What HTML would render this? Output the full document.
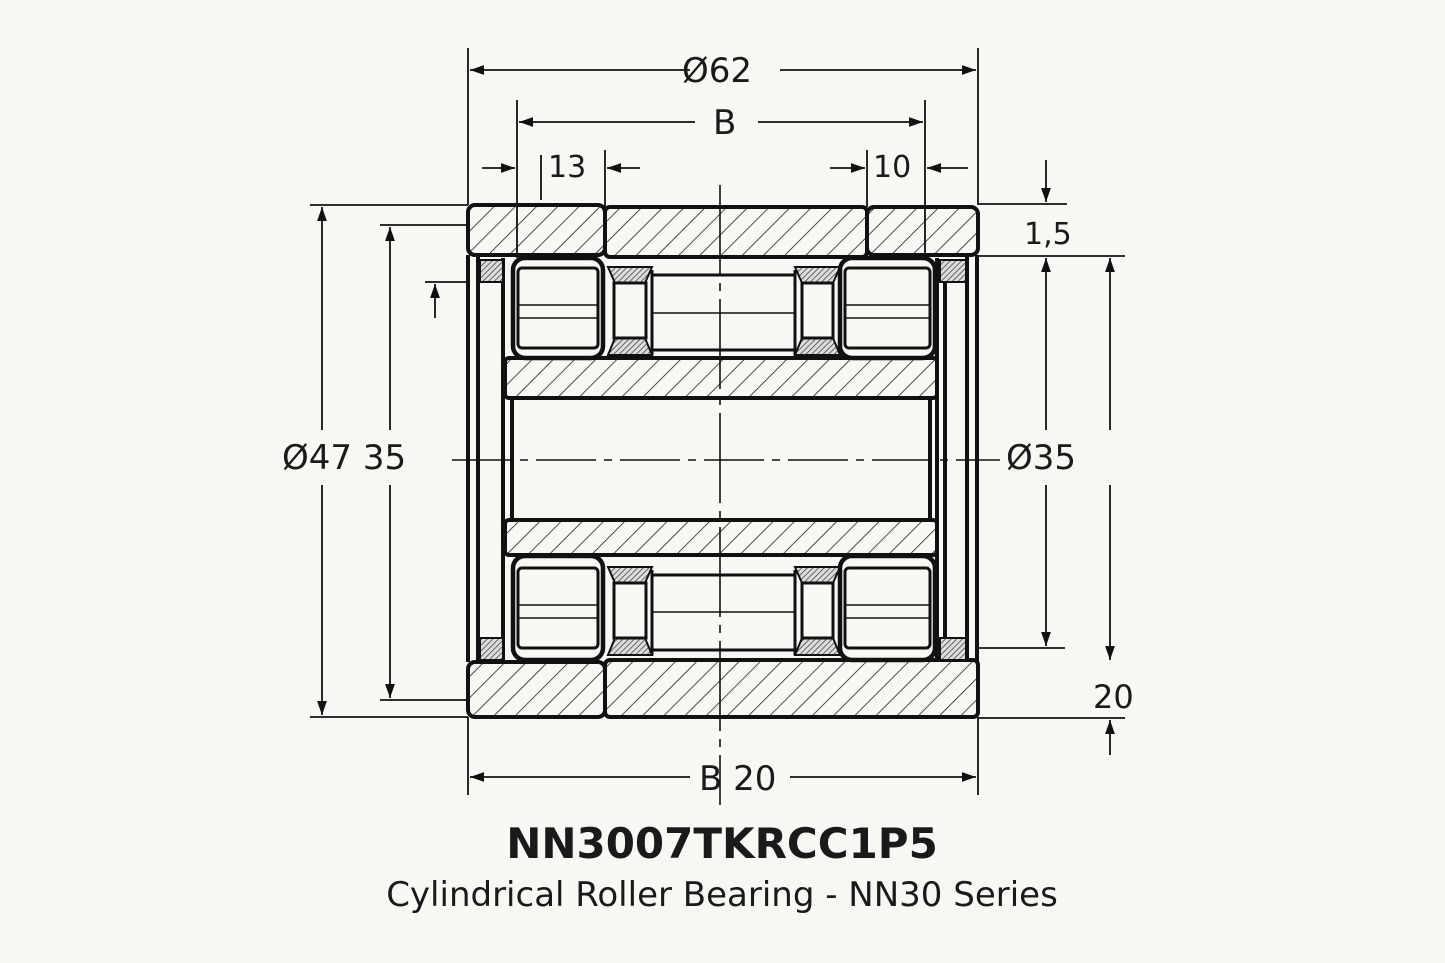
<!DOCTYPE html>
<html><head><meta charset="utf-8"><style>
html,body{margin:0;padding:0;background:#f7f7f3;}
svg{display:block}
text{font-family:"DejaVu Sans","Liberation Sans",sans-serif;fill:#1a1a1a}
</style></head><body>
<svg width="1445" height="963" viewBox="0 0 1445 963" xmlns="http://www.w3.org/2000/svg">
<defs>
<pattern id="h" patternUnits="userSpaceOnUse" width="15" height="15" patternTransform="rotate(45)">
<rect width="15" height="15" fill="#f7f7f3"/><line x1="0" y1="0" x2="0" y2="15" stroke="#222" stroke-width="1.6"/></pattern>
<pattern id="f" patternUnits="userSpaceOnUse" width="4" height="4" patternTransform="rotate(45)">
<rect width="4" height="4" fill="#ddd"/><line x1="0" y1="0" x2="0" y2="4" stroke="#333" stroke-width="1.4"/></pattern>
<marker id="a" viewBox="0 0 10 10" refX="10" refY="5" markerWidth="14" markerHeight="14" markerUnits="userSpaceOnUse" orient="auto-start-reverse"><path d="M0,1.5 L10,5 L0,8.5z" fill="#111"/></marker>
</defs>
<rect width="1445" height="963" fill="#f7f7f3"/>
<g stroke="#111" fill="none">
<g stroke-width="4">
<line x1="468" y1="255" x2="468" y2="662"/><line x1="478" y1="255" x2="478" y2="662"/>
<line x1="503" y1="258" x2="503" y2="662"/><line x1="512" y1="398" x2="512" y2="520"/>
<line x1="977" y1="255" x2="977" y2="662"/><line x1="967" y1="255" x2="967" y2="662"/>
<line x1="945" y1="260" x2="945" y2="662"/><line x1="937" y1="258" x2="937" y2="662"/>
<line x1="930" y1="398" x2="930" y2="520"/>
</g>
<g stroke-width="4" fill="url(#h)">
<rect x="468" y="205" width="137" height="50" rx="7"/>
<rect x="605" y="207" width="262" height="50" rx="5"/>
<rect x="867" y="207" width="111" height="48" rx="7"/>
<rect x="468" y="662" width="137" height="55" rx="7"/>
<rect x="605" y="660" width="373" height="57" rx="5"/>
<rect x="505" y="358" width="432" height="40" rx="4"/>
<rect x="505" y="520" width="432" height="35" rx="4"/>
</g>
<g stroke-width="2" fill="url(#f)">
<rect x="480" y="260" width="23" height="22"/><rect x="940" y="260" width="26" height="22"/>
<rect x="480" y="638" width="23" height="22"/><rect x="940" y="638" width="26" height="22"/>
<path d="M608,267 H652 L645,283 H615Z"/><path d="M608,355 H652 L645,338 H615Z"/>
<path d="M795,267 H840 L833,283 H802Z"/><path d="M795,355 H840 L833,338 H802Z"/>
<path d="M608,567 H652 L645,583 H615Z"/><path d="M608,655 H652 L645,638 H615Z"/>
<path d="M795,567 H840 L833,583 H802Z"/><path d="M795,655 H840 L833,638 H802Z"/>
</g>
<g stroke-width="4.5" fill="#f7f7f3">
<rect x="513" y="258" width="90" height="100" rx="12"/><rect x="840" y="258" width="95" height="100" rx="12"/>
<rect x="513" y="556" width="90" height="104" rx="12"/><rect x="840" y="556" width="95" height="104" rx="12"/>
</g>
<g stroke-width="3">
<rect x="518" y="268" width="80" height="80" rx="4"/><rect x="845" y="268" width="85" height="80" rx="4"/>
<rect x="518" y="568" width="80" height="80" rx="4"/><rect x="845" y="568" width="85" height="80" rx="4"/>
<rect x="614" y="283" width="32" height="55"/><rect x="802" y="283" width="31" height="55"/>
<rect x="614" y="583" width="32" height="55"/><rect x="802" y="583" width="31" height="55"/>
<line x1="652" y1="275" x2="795" y2="275"/><line x1="652" y1="350" x2="795" y2="350"/>
<line x1="652" y1="575" x2="795" y2="575"/><line x1="652" y1="650" x2="795" y2="650"/>
<line x1="652" y1="270" x2="652" y2="355"/><line x1="795" y1="270" x2="795" y2="355"/>
<line x1="652" y1="570" x2="652" y2="655"/><line x1="795" y1="570" x2="795" y2="655"/>
</g>
<g stroke-width="1.5">
<line x1="518" y1="305" x2="598" y2="305"/><line x1="518" y1="318" x2="598" y2="318"/>
<line x1="845" y1="305" x2="930" y2="305"/><line x1="845" y1="318" x2="930" y2="318"/>
<line x1="518" y1="605" x2="598" y2="605"/><line x1="518" y1="618" x2="598" y2="618"/>
<line x1="845" y1="605" x2="930" y2="605"/><line x1="845" y1="618" x2="930" y2="618"/>
<line x1="652" y1="313" x2="795" y2="313"/><line x1="652" y1="612" x2="795" y2="612"/>
</g>
<g stroke-width="1.6">
<line x1="452" y1="460" x2="1000" y2="460" stroke-dasharray="60,8,8,8"/>
<line x1="720" y1="185" x2="720" y2="805" stroke-dasharray="90,8,8,8"/>
</g>
<g stroke-width="1.8">
<line x1="468" y1="48" x2="468" y2="205"/><line x1="978" y1="48" x2="978" y2="205"/>
<line x1="468" y1="717" x2="468" y2="795"/><line x1="978" y1="717" x2="978" y2="795"/>
<line x1="517" y1="100" x2="517" y2="258"/><line x1="925" y1="100" x2="925" y2="258"/>
<line x1="605" y1="150" x2="605" y2="207"/><line x1="867" y1="150" x2="867" y2="207"/>
<line x1="541" y1="155" x2="541" y2="200"/>
<line x1="310" y1="205" x2="468" y2="205"/><line x1="310" y1="717" x2="468" y2="717"/>
<line x1="380" y1="225" x2="470" y2="225"/><line x1="380" y1="700" x2="470" y2="700"/>
<line x1="425" y1="282" x2="470" y2="282"/>
<line x1="978" y1="204" x2="1067" y2="204"/><line x1="978" y1="256" x2="1125" y2="256"/>
<line x1="978" y1="648" x2="1065" y2="648"/><line x1="978" y1="718" x2="1125" y2="718"/>
</g>
<g stroke-width="1.8" marker-end="url(#a)">
<line x1="690" y1="70" x2="470" y2="70"/><line x1="780" y1="70" x2="976" y2="70"/>
<line x1="695" y1="122" x2="519" y2="122"/><line x1="758" y1="122" x2="923" y2="122"/>
<line x1="482" y1="168" x2="515" y2="168"/><line x1="640" y1="168" x2="607" y2="168"/>
<line x1="830" y1="168" x2="865" y2="168"/><line x1="968" y1="168" x2="927" y2="168"/>
<line x1="690" y1="777" x2="470" y2="777"/><line x1="790" y1="777" x2="976" y2="777"/>
<line x1="322" y1="430" x2="322" y2="207"/><line x1="322" y1="485" x2="322" y2="715"/>
<line x1="390" y1="430" x2="390" y2="227"/><line x1="390" y1="485" x2="390" y2="698"/>
<line x1="435" y1="318" x2="435" y2="284"/>
<line x1="1046" y1="160" x2="1046" y2="202"/>
<line x1="1046" y1="430" x2="1046" y2="258"/><line x1="1046" y1="485" x2="1046" y2="646"/>
<line x1="1110" y1="430" x2="1110" y2="258"/><line x1="1110" y1="485" x2="1110" y2="660"/>
<line x1="1110" y1="755" x2="1110" y2="720"/>
</g>
</g>
<g font-size="34">
<text x="682" y="82">Ø62</text>
<text x="713" y="134">B</text>
<text x="548" y="177" font-size="30">13</text>
<text x="873" y="177" font-size="30">10</text>
<text x="1024" y="244" font-size="30">1,5</text>
<text x="282" y="469">Ø47 35</text>
<text x="1006" y="469">Ø35</text>
<text x="1093" y="708" font-size="32">20</text>
<text x="699" y="790">B 20</text>
</g>
<text x="722" y="858" font-size="42" font-weight="bold" text-anchor="middle">NN3007TKRCC1P5</text>
<text x="722" y="906" font-size="34" text-anchor="middle">Cylindrical Roller Bearing - NN30 Series</text>
</svg>
</body></html>
